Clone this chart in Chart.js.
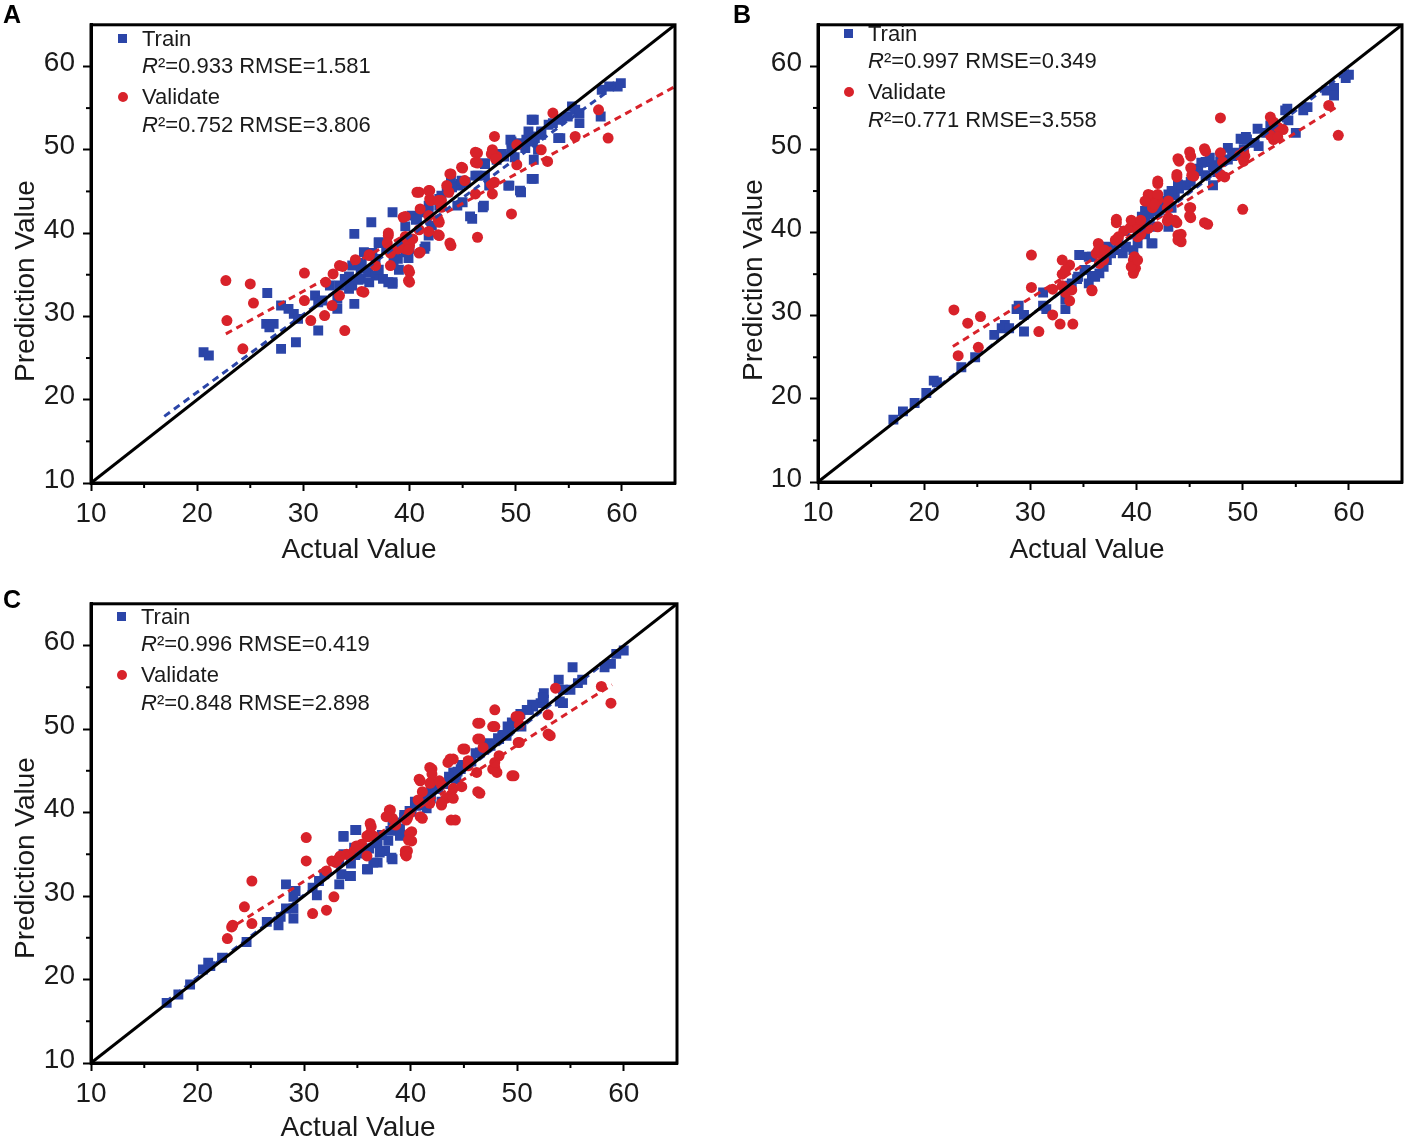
<!DOCTYPE html>
<html>
<head>
<meta charset="utf-8">
<title>Actual vs Prediction</title>
<script src="https://cdn.jsdelivr.net/npm/chart.js@4.4.1/dist/chart.umd.min.js"></script>
<style>
  html, body { margin: 0; padding: 0; background: #fff; }
  body { width: 1409px; height: 1137px; position: relative; overflow: hidden;
         font-family: "Liberation Sans", Arial, sans-serif; color: #1a1a1a; }
  canvas { position: absolute; }
  .letter { position: absolute; font-weight: bold; font-size: 25px; line-height: 25px; color: #000; }
  .title { position: absolute; font-size: 28px; line-height: 30px; white-space: nowrap; }
  .ytitle { transform: translate(-50%, -50%) rotate(-90deg); }
  .xtitle { transform: translate(-50%, -50%); }
  .leg { position: absolute; font-size: 22px; }
  .row { position: absolute; left: 0; height: 28px; line-height: 28px; white-space: nowrap; }
  .sq { position: absolute; left: -24px; top: 9px; width: 9px; height: 9px; background: #2b45a8; }
  .dot { position: absolute; left: -24px; top: 9px; width: 10px; height: 10px; border-radius: 50%; background: #d8222a; }
</style>
</head>
<body>
<canvas id="chartA" width="700" height="540" style="left:0;top:0"></canvas>
<canvas id="chartB" width="682" height="540" style="left:727px;top:0"></canvas>
<canvas id="chartC" width="700" height="540" style="left:0;top:579px"></canvas>

<div class="letter" style="left:3px;top:2px">A</div>
<div class="letter" style="left:733px;top:2px">B</div>
<div class="letter" style="left:3px;top:587px">C</div>

<div class="title ytitle" style="left:25px;top:281px">Prediction Value</div>
<div class="title xtitle" style="left:359px;top:549px">Actual Value</div>
<div class="title ytitle" style="left:753px;top:280px">Prediction Value</div>
<div class="title xtitle" style="left:1087px;top:549px">Actual Value</div>
<div class="title ytitle" style="left:25px;top:858px">Prediction Value</div>
<div class="title xtitle" style="left:358px;top:1127px">Actual Value</div>

<div class="leg" id="legA" style="left:142px;top:25px"></div>
<div class="leg" id="legB" style="left:868px;top:20px"></div>
<div class="leg" id="legC" style="left:141px;top:603px"></div>

<script>
// tick values
const majorTicks = [10, 20, 30, 40, 50, 60];
const minorTicks = [15, 25, 35, 45, 55];
const diagonal = [[10, 10], [65, 65]];

// legend statistics [R2, RMSE]
const statsTrain = { A: ["0.933", "1.581"], B: ["0.997", "0.349"], C: ["0.996", "0.419"] };
const statsValid = { A: ["0.752", "3.806"], B: ["0.771", "3.558"], C: ["0.848", "2.898"] };

// ---- Panel A ----
const trainA = [
  [20.6,25.7],[21.1,25.3],[26.6,32.8],[26.5,29.1],[27.2,29.1],[26.8,28.7],[27.9,26.1],[29.3,26.9],
  [31.4,28.3],[27.9,31.3],[28.6,30.9],[29.1,30.3],[29.5,29.7],[31.1,32.5],[31.4,31.7],[31.8,31.9],
  [33.2,30.9],[33.2,32.1],[34.8,31.5],[34.8,39.9],[36.4,41.3],[38.4,42.5],[40.2,42.1],[38.4,33.9],
  [34.6,36.1],[35.4,35.7],[36.1,35.3],[36.8,34.9],[37.5,34.5],[37.1,38.9],[37.8,38.1],[38.6,37.7],
  [38.9,36.9],[39.6,37.7],[40.0,38.1],[41.4,38.1],[41.8,39.7],[42.1,40.9],[40.7,41.7],[41.0,42.5],
  [41.8,43.3],[42.8,44.1],[43.5,44.9],[44.6,45.7],[45.3,46.1],[45.9,41.7],[46.9,43.1],[47.1,46.9],
  [47.5,45.7],[48.2,48.8],[48.9,49.2],[49.6,50.0],[50.3,50.8],[51.0,51.2],[51.7,51.6],[52.4,52.0],
  [49.4,45.7],[50.5,44.9],[51.7,46.5],[49.6,51.0],[51.7,53.6],[54.2,51.4],[53.5,53.2],[54.2,53.6],
  [54.9,54.0],[55.3,55.2],[55.6,54.8],[56.0,53.2],[56.0,54.4],[58.1,57.2],[58.8,57.6],[59.6,57.6],
  [59.9,58.0],[58.0,54.0],[43.9,46.5],[46.4,46.9],[52.1,50.0],[51.7,48.8],[45.0,43.7],[47.1,48.4],
  [42.8,43.3],[35.7,37.7],[36.8,36.9],[33.9,34.5],[32.5,33.7],[34.6,33.7],[35.4,34.5],
  [51.5,53.6],[54.0,51.4],[51.2,52.2],[51.8,51.4],[52.4,51.8],[49.5,51.2],[50.2,50.6],[49.3,45.7],
  [50.4,45.1],[51.5,46.5],[47.0,43.3],[45.7,42.0],[38.5,36.6],[41.5,38.4],[39.9,37.0],[39.0,35.6],
  [38.4,34.1],[44.5,43.3],[44.8,45.9],[46.2,46.9],[47.1,48.3],[48.1,49.3],[48.7,49.5],[49.9,49.1],
  [50.9,50.2],[51.5,51.0],[52.4,52.2],[53.1,53.0],[43.0,44.5],[44.0,45.5],[44.9,46.3],[39.6,40.8],
  [40.6,41.6],[41.8,42.7],[37.1,38.8],[36.5,37.6],[35.5,36.4],[34.3,34.8],[33.4,33.7],[35.2,34.4],
  [37.1,35.6],[36.2,34.1],[34.3,33.3],[38.0,34.1]
];
const validA = [
  [22.7,34.3],[25.0,33.9],[25.3,31.6],[22.8,29.5],[24.3,26.1],[30.1,35.2],[30.1,31.9],[30.7,29.5],
  [32.0,30.1],[32.7,31.3],[33.4,32.5],[32.1,34.1],[32.8,35.1],[33.4,36.1],[33.9,28.3],[35.7,32.9],
  [36.2,37.3],[36.8,36.1],[38.2,36.1],[38.2,37.7],[38.0,39.7],[38.9,38.1],[39.3,38.9],[39.6,38.1],
  [40.0,38.5],[40.3,39.3],[40.0,35.3],[40.0,34.1],[41.0,37.7],[39.4,41.9],[40.9,44.9],[41.9,45.1],
  [41.9,44.1],[43.0,43.9],[43.7,44.9],[43.9,47.1],[41.0,42.9],[41.8,42.1],[42.8,41.3],[42.8,39.7],
  [43.9,38.5],[46.4,39.5],[49.6,42.3],[45.0,47.8],[46.4,48.4],[46.4,49.6],[47.8,50.0],[48.0,51.6],
  [48.2,49.2],[48.0,46.1],[47.8,44.7],[50.1,50.6],[50.1,48.2],[52.4,50.0],[53.0,48.6],[53.5,54.4],
  [55.6,51.6],[57.8,54.8],[58.7,51.4],
  [46.2,49.7],[47.7,49.5],[48.1,48.9],[44.9,47.9],[46.2,48.5],[43.8,47.1],[45.2,46.3],[43.5,45.7],
  [47.7,45.9],[46.2,44.7],[40.7,44.9],[41.8,45.1],[42.0,43.9],[42.7,43.9],[43.0,43.1],[39.6,42.0],
  [38.0,40.0],[39.6,39.6],[40.9,40.4],[41.8,40.2],[42.7,41.6],[42.7,39.8],[43.8,38.8],[37.9,38.8],
  [38.2,37.6],[39.9,38.0],[40.9,37.6],[39.9,35.6],[39.9,34.3],[35.5,33.0],[33.7,36.0],[34.9,36.8],
  [36.2,37.4]
];
const fitTrainA = [[16.9, 18.0], [59.3, 57.6]];
const fitValidA = [[22.7, 27.9], [65.0, 57.6]];

// ---- Panel B ----
const trainB = [
  [17.1,17.5],[18.0,18.5],[19.1,19.5],[20.2,20.7],[20.9,22.2],[21.2,22.0],[23.5,23.8],[24.8,25.0],
  [26.6,27.7],[27.3,28.5],[27.6,28.9],[28.0,28.5],[28.7,30.8],[29.4,30.1],[29.4,28.1],[28.9,31.2],
  [31.2,32.8],[31.5,30.8],[31.2,31.2],[33.3,30.8],[33.3,32.0],[33.7,33.6],[34.4,34.4],[35.1,35.5],
  [35.5,37.1],[35.8,34.8],[36.5,35.1],[36.9,35.9],[37.2,36.7],[37.6,37.5],[38.7,37.5],[39.0,38.3],
  [39.7,37.9],[40.1,38.7],[40.8,39.8],[40.8,41.4],[41.2,42.2],[41.9,42.6],[42.6,43.0],[42.9,43.8],
  [43.3,43.0],[43.6,44.5],[44.0,45.3],[44.7,45.7],[45.1,46.1],[41.5,38.7],[45.8,47.7],[46.5,48.5],
  [47.2,48.1],[47.6,47.3],[47.9,48.5],[48.6,48.8],[49.0,49.2],[49.3,49.6],[50.1,50.0],[50.4,51.2],
  [51.1,50.8],[51.5,50.4],[52.2,52.0],[52.9,52.4],[46.5,46.9],[47.2,45.7],[54.0,54.7],[54.3,53.5],
  [55.7,54.7],[56.1,55.1],[55.0,52.0],[57.9,57.1],[58.6,57.4],[59.7,58.6],[60.0,59.0],[58.6,56.5],
  [50.1,51.2],[47.9,49.2],[42.2,43.8],[40.1,39.8],[37.9,37.9],[34.6,37.3],
  [50.3,51.5],[49.8,51.3],[51.4,52.5],[52.6,52.9],[54.2,54.9],[48.6,50.2],[46.9,49.0],[46.1,48.4],
  [47.3,47.9],[45.8,47.4],[43.9,45.8],[43.3,45.0],[43.0,44.6],[42.0,43.8],[40.8,42.6],[40.5,41.9],
  [41.4,40.7],[43.0,40.7],[38.9,40.2],[38.3,38.7],[37.3,38.3],[36.4,37.5],[35.8,37.1],[35.2,35.5],
  [34.5,34.7],[33.9,33.9],[35.5,33.9],[36.1,34.7],[41.4,38.7]
];
const validB = [
  [22.8,30.7],[24.1,29.1],[25.3,29.9],[25.1,26.2],[23.2,25.2],[30.1,37.3],[30.1,33.4],[32.1,33.2],
  [32.1,30.1],[30.8,28.1],[32.8,29.0],[34.0,29.0],[33.0,35.0],[33.7,36.1],[33.7,31.8],[33.3,32.8],
  [33.0,33.6],[35.8,33.0],[36.2,37.5],[36.5,36.3],[36.9,36.7],[38.0,39.1],[38.1,41.2],[38.8,40.2],
  [39.4,40.6],[40.1,41.0],[40.1,39.5],[40.4,39.8],[39.7,36.7],[39.9,35.7],[39.7,35.1],[41.0,43.8],
  [41.3,44.5],[42.0,43.9],[42.0,45.9],[41.5,43.0],[42.9,43.0],[42.9,41.4],[43.8,41.2],[44.2,39.8],
  [44.2,38.9],[43.8,46.7],[44.0,48.6],[45.1,49.2],[45.2,46.9],[45.1,43.0],[45.1,41.8],[46.7,41.0],
  [46.5,49.8],[47.9,49.6],[47.9,53.8],[48.1,48.5],[48.3,46.7],[50.1,48.6],[50.2,49.2],[50.0,42.8],
  [52.9,53.3],[53.8,52.4],[52.9,51.2],[58.1,55.3],[59.0,51.7],
  [52.6,53.9],[53.3,52.7],[52.6,51.7],[53.3,51.5],[46.4,50.1],[45.0,49.7],[43.9,48.9],[47.9,47.0],
  [49.7,49.3],[50.1,49.7],[45.1,47.8],[45.4,46.8],[43.8,47.0],[42.0,46.2],[41.1,44.6],[42.0,44.6],
  [43.0,43.8],[41.7,43.4],[40.8,43.8],[45.0,43.0],[45.0,42.0],[46.4,41.2],[43.9,39.7],[43.9,39.1],
  [38.1,41.6],[39.5,41.5],[40.4,41.5],[40.1,40.3],[41.1,40.5],[42.0,40.7],[43.0,41.8],[43.6,41.5],
  [38.3,39.5],[36.4,38.7],[36.4,37.9],[37.0,37.9],[39.8,37.1],[39.5,35.9],[40.1,36.7],[33.0,36.7],
  [33.3,35.5],[35.8,33.1],[33.9,33.1]
];
const fitTrainB = [[17.0, 17.2], [60.0, 59.6]];
const fitValidB = [[22.7, 26.3], [59.1, 55.3]];

// ---- Panel C ----
const trainC = [
  [17.1,17.2],[18.2,18.2],[19.3,19.4],[20.5,21.2],[21.0,22.0],[21.2,21.6],[22.3,22.6],[24.6,24.5],
  [26.5,26.9],[27.6,26.5],[27.8,27.5],[28.3,28.5],[29.0,28.5],[29.0,27.3],[28.3,31.4],[29.0,29.9],
  [29.2,30.6],[30.8,31.0],[31.2,30.1],[31.4,31.8],[31.9,32.6],[33.3,31.4],[33.5,32.6],[34.4,32.4],
  [33.3,34.2],[33.7,35.0],[33.7,37.1],[34.9,37.9],[34.7,35.8],[35.4,35.4],[36.0,33.2],[36.9,34.0],
  [37.6,35.4],[38.3,34.4],[37.9,36.6],[39.0,37.3],[39.0,38.1],[38.3,38.5],[39.4,39.7],[40.1,40.1],
  [40.4,41.3],[41.1,40.9],[41.5,40.5],[41.9,41.7],[41.9,42.5],[42.6,42.9],[42.9,41.3],[44.0,44.8],
  [44.3,44.0],[44.7,45.2],[45.4,46.0],[46.5,47.2],[47.5,48.0],[48.3,48.8],[49.0,49.2],[49.3,50.0],
  [49.7,50.7],[50.4,50.3],[51.1,52.3],[51.5,52.7],[52.2,53.1],[52.5,53.5],[52.5,54.3],[53.9,55.9],
  [54.3,54.7],[54.3,53.1],[55.0,54.7],[55.2,57.4],[55.7,55.5],[56.1,55.9],[58.2,57.4],[58.8,57.8],
  [59.3,59.0],[60.0,59.4],
  [52.4,53.8],[51.4,52.9],[50.9,52.3],[50.3,51.8],[49.5,50.8],[49.1,50.3],[48.6,49.3],[48.2,48.9],
  [47.3,48.3],[46.9,47.5],[46.1,47.1],[45.7,46.1],[44.8,45.7],[44.4,44.9],[43.6,44.3],[43.1,43.4],
  [42.3,42.8],[41.8,41.8],[41.3,41.4],[40.5,40.8],[39.9,40.2],[39.4,39.4],[38.6,38.8],[38.1,37.8],
  [37.3,37.3],[36.9,36.3],[36.1,35.7],[35.6,35.1],[34.8,34.9],[34.4,33.9],[34.8,37.9],[33.7,37.2],
  [37.1,35.2],[38.2,34.6],[36.5,34.0],[35.9,33.2],[34.3,32.4],[39.0,37.2],[54.0,53.3]
];
const validC = [
  [22.8,24.9],[23.2,26.3],[23.3,26.5],[24.4,28.7],[25.1,31.8],[25.1,26.7],[30.2,37.0],[30.2,34.2],
  [30.8,27.9],[32.1,28.3],[32.8,29.9],[32.1,33.0],[32.6,34.2],[33.3,34.6],[34.0,35.0],[34.7,35.4],
  [35.4,36.2],[36.0,37.1],[36.2,37.5],[36.3,38.3],[38.1,40.3],[38.3,39.3],[38.6,38.5],[39.7,39.3],
  [40.1,37.7],[40.1,36.6],[39.7,35.4],[39.5,35.0],[40.8,44.0],[41.1,42.5],[41.1,39.3],[42.0,45.2],
  [41.9,43.6],[42.9,43.3],[42.9,40.9],[43.3,41.7],[44.2,39.1],[44.0,46.4],[45.1,47.6],[45.4,45.6],
  [46.5,50.7],[46.5,42.3],[46.5,48.8],[47.9,52.3],[47.9,50.3],[47.9,45.4],[48.1,44.8],[49.7,44.4],
  [48.3,46.8],[50.2,51.5],[50.2,48.4],[52.9,51.7],[53.1,49.2],[53.6,54.9],[57.9,55.1],[58.8,53.1],
  [44.0,42.9],
  [46.3,50.7],[47.7,50.3],[49.9,51.5],[50.2,50.5],[46.3,48.8],[46.8,47.8],[44.9,47.6],[43.7,46.4],
  [43.5,46.0],[41.8,45.4],[42.0,44.6],[40.9,43.8],[41.8,43.5],[42.7,43.8],[45.4,46.2],[46.2,44.8],
  [47.7,45.2],[47.9,46.0],[49.5,44.4],[44.8,43.1],[46.3,42.5],[43.8,42.1],[44.0,41.7],[42.9,41.1],
  [43.8,39.1],[50.1,48.4],[52.9,49.4],[40.7,41.5],[41.8,41.1],[40.9,39.5],[39.9,39.9],[38.0,40.3],
  [37.7,39.5],[36.2,38.7],[36.5,37.2],[35.9,37.2],[34.9,36.0],[34.3,34.8],[33.4,34.8],[33.0,34.0],
  [39.6,39.1],[39.9,37.5],[39.8,36.7],[39.5,35.4],[39.6,34.8],[35.9,34.8]
];
const fitTrainC = [[17.0, 17.3], [60.0, 59.7]];
const fitValidC = [[22.8, 25.9], [58.9, 55.3]];

const BLUE = "#2b45a8";
const RED = "#d8222a";
const TICK_FONT = { family: "'Liberation Sans', Arial, sans-serif", size: 28 };

// frame on all four sides plus short minor ticks at the 5s
const framePlugin = {
  id: "frame",
  afterDraw(chart) {
    const ctx = chart.ctx;
    const a = chart.chartArea;
    const xs = chart.scales.x, ys = chart.scales.y;
    ctx.save();
    ctx.strokeStyle = "#000";
    ctx.lineWidth = 2;
    minorTicks.forEach(v => {
      const px = xs.getPixelForValue(v);
      ctx.beginPath(); ctx.moveTo(px, a.bottom); ctx.lineTo(px, a.bottom + 5); ctx.stroke();
      const py = ys.getPixelForValue(v);
      ctx.beginPath(); ctx.moveTo(a.left, py); ctx.lineTo(a.left - 5, py); ctx.stroke();
    });
    ctx.lineWidth = 3;
    ctx.strokeRect(a.left, a.top, a.right - a.left, a.bottom - a.top);
    ctx.restore();
  }
};

function toXY(arr) {
  return arr.map(p => ({ x: p[0], y: p[1] }));
}

function axis(sizeProp, size) {
  const horizontal = sizeProp === "height";
  return {
    type: "linear",
    min: 10,
    max: 65,
    afterBuildTicks: s => { s.ticks = majorTicks.map(v => ({ value: v })); },
    ticks: {
      color: "#1a1a1a",
      font: TICK_FONT,
      padding: horizontal ? 6 : 8,
      labelOffset: horizontal ? 0 : -3
    },
    grid: { drawOnChartArea: false, drawTicks: true, tickLength: 8, tickWidth: 2, tickColor: "#000" },
    border: { display: true, color: "#000", width: 3 },
    afterFit: s => { s[sizeProp] = size; }
  };
}

function makePanel(id, train, valid, fitT, fitV, pad, xH) {
  new Chart(document.getElementById(id), {
    type: "scatter",
    data: {
      datasets: [
        { label: "y = x", data: toXY(diagonal), showLine: true, borderColor: "#000", borderWidth: 3,
          pointRadius: 0, pointHoverRadius: 0, order: 0 },
        { label: "Train fit", data: toXY(fitT), showLine: true, borderColor: BLUE, borderWidth: 3,
          borderDash: [7, 5], pointRadius: 0, pointHoverRadius: 0, order: 1 },
        { label: "Validate fit", data: toXY(fitV), showLine: true, borderColor: RED, borderWidth: 3,
          borderDash: [7, 5], pointRadius: 0, pointHoverRadius: 0, order: 1 },
        { label: "Validate", data: toXY(valid), pointStyle: "circle", pointRadius: 5.5,
          backgroundColor: RED, borderWidth: 0, order: 2 },
        { label: "Train", data: toXY(train), pointStyle: "rect", pointRadius: 7,
          backgroundColor: BLUE, borderWidth: 0, order: 3 }
      ]
    },
    options: {
      responsive: false,
      animation: false,
      layout: { padding: pad },
      plugins: { legend: { display: false }, tooltip: { enabled: false } },
      scales: {
        x: axis("height", xH),
        y: axis("width", 91)
      }
    },
    plugins: [framePlugin]
  });
}

function makeLegend(id, key) {
  const el = document.getElementById(id);
  const t = statsTrain[key], v = statsValid[key];
  el.innerHTML =
    '<div class="row" style="top:0"><span class="sq"></span>Train</div>' +
    '<div class="row" style="top:27px"><i>R</i>²=' + t[0] + ' RMSE=' + t[1] + '</div>' +
    '<div class="row" style="top:58px"><span class="dot"></span>Validate</div>' +
    '<div class="row" style="top:86px"><i>R</i>²=' + v[0] + ' RMSE=' + v[1] + '</div>';
}

makePanel("chartA", trainA, validA, fitTrainA, fitValidA, { left: 0, top: 19, right: 25, bottom: 0 }, 57);
makePanel("chartB", trainB, validB, fitTrainB, fitValidB, { left: 0, top: 17, right: 4, bottom: 0 }, 58);
makePanel("chartC", trainC, validC, fitTrainC, fitValidC, { left: 0, top: 19, right: 23, bottom: 0 }, 56);

makeLegend("legA", "A");
makeLegend("legB", "B");
makeLegend("legC", "C");
</script>
</body>
</html>
